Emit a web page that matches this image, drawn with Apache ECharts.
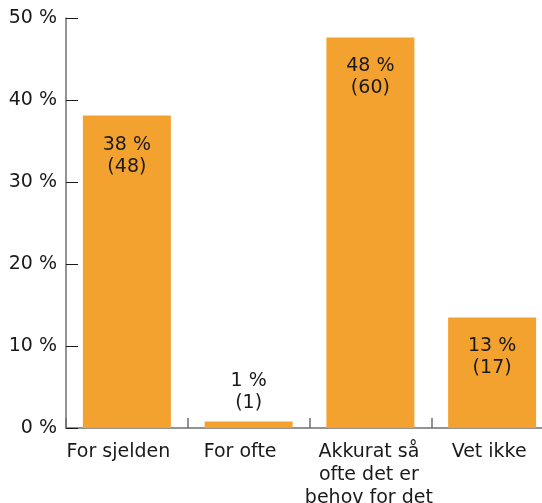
<!DOCTYPE html>
<html>
<head>
<meta charset="utf-8">
<script src="https://cdn.jsdelivr.net/npm/echarts@6/dist/echarts.min.js"></script>
<style>
  html, body { margin: 0; padding: 0; background: #ffffff; }
  #chart { width: 542px; height: 503px; }
</style>
</head>
<body>
<div id="chart"></div>
<script>
// Answer categories
var categories = ['For sjelden', 'For ofte', 'Akkurat så\nofte det er\nbehov for det', 'Vet ikke'];
// Share of respondents (%) and number of respondents per answer
var percents = [38.1, 0.79, 47.62, 13.49];
var counts = [48, 1, 60, 17];
// Value axis ticks
var yMin = 0, yMax = 50, yStep = 10;

var FONT = 'DejaVu Sans';
var BAR = '#F4A22F';
// right padding nudging each category caption slightly left of its bar centre
var captionNudge = [17, 17, 3, 6];

var chart = echarts.init(document.getElementById('chart'), null, { renderer: 'canvas' });

var barData = percents.map(function (p) {
  var small = p < 5;
  return {
    value: p,
    label: {
      position: small ? 'top' : 'insideTop',
      distance: small ? 7 : 18
    }
  };
});

var categoryData = categories.map(function (c, i) {
  return { value: c, textStyle: { padding: [0, captionNudge[i], 0, 0] } };
});

chart.setOption({
  animation: false,
  backgroundColor: '#ffffff',
  grid: {
    left: 66, top: 18, width: 487, height: 410,
    containLabel: false,
    outerBoundsMode: 'none'
  },
  xAxis: {
    type: 'category',
    data: categoryData,
    boundaryGap: true,
    axisLine: { show: true, lineStyle: { color: '#6f6f6f', width: 1.5 } },
    axisTick: { show: true, inside: true, length: 10, lineStyle: { color: '#6f6f6f', width: 1.5 } },
    axisLabel: {
      margin: 13,
      fontFamily: FONT, fontSize: 19, lineHeight: 23, color: '#1a1a1a',
      interval: 0
    }
  },
  yAxis: {
    type: 'value',
    min: yMin, max: yMax, interval: yStep,
    axisLine: { show: true, lineStyle: { color: '#6f6f6f', width: 1.5 } },
    axisTick: { show: true, inside: true, length: 12, lineStyle: { color: '#1a1a1a', width: 1 } },
    splitLine: { show: false },
    axisLabel: {
      margin: 9,
      fontFamily: FONT, fontSize: 19, color: '#1a1a1a',
      formatter: '{value} %'
    }
  },
  series: [{
    type: 'bar',
    data: barData,
    barWidth: 88,
    itemStyle: { color: BAR },
    label: {
      show: true,
      fontFamily: FONT, fontSize: 19, lineHeight: 22, color: '#1a1a1a',
      align: 'center',
      formatter: function (p) {
        return Math.round(percents[p.dataIndex]) + ' %\n(' + counts[p.dataIndex] + ')';
      }
    }
  }]
});
</script>
</body>
</html>
